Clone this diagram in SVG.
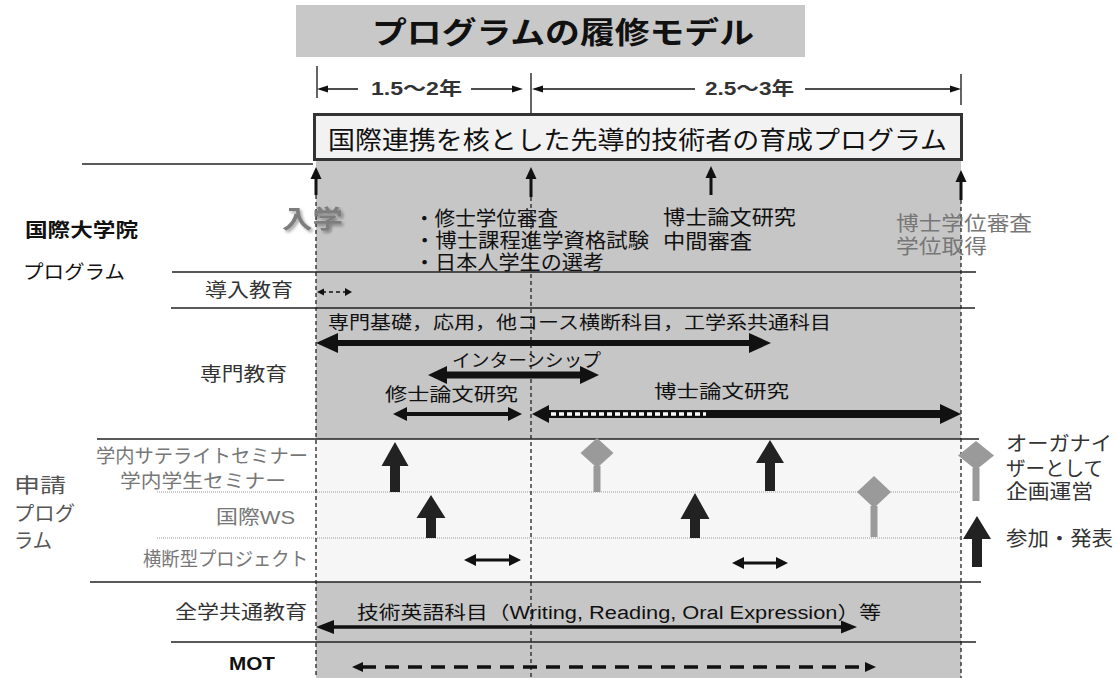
<svg xmlns="http://www.w3.org/2000/svg" width="1118" height="678" viewBox="0 0 1118 678">
<defs>
<style>
text{font-family:'Liberation Sans','Noto Sans CJK JP',sans-serif;}
.k{fill:#111}
.g{fill:#777}
.d{fill:#333}
.ln{stroke:#222;stroke-width:1.3;fill:none}
.thin{stroke:#111;stroke-width:1.3;fill:none}
.vd{stroke:#222;stroke-width:1.3;stroke-dasharray:4 3;fill:none}
.dot{stroke:#999;stroke-width:1;stroke-dasharray:1 1;fill:none}
.blk{fill:#222}
.hd{fill:#111}
.dia{fill:#9a9a9a}
</style>
<filter id="sh" x="-20%" y="-20%" width="150%" height="150%">
<feGaussianBlur in="SourceAlpha" stdDeviation="1.5"/>
<feOffset dx="2" dy="2" result="b"/>
<feFlood flood-color="#000" flood-opacity="0.35"/>
<feComposite in2="b" operator="in"/>
<feMerge><feMergeNode/><feMergeNode in="SourceGraphic"/></feMerge>
</filter>
</defs>
<rect width="1118" height="678" fill="#fff"/>

<g id="background">
<rect x="316" y="160" width="645" height="518" fill="#c6c6c6"/>
<rect x="316" y="439" width="645" height="143" fill="#f6f6f6"/>
</g>

<g id="title">
<rect x="296" y="5" width="509" height="52" fill="#c8c8c8"/>
<text x="372" y="43" font-size="30" font-weight="bold" class="k" textLength="382" lengthAdjust="spacingAndGlyphs">プログラムの履修モデル</text>
</g>

<g id="grid">
<line class="ln" x1="82" y1="164" x2="313" y2="164"/>
<line class="ln" x1="172" y1="272" x2="976" y2="272"/>
<line class="ln" x1="171" y1="308" x2="975" y2="308"/>
<line class="ln" x1="97" y1="439" x2="979" y2="439"/>
<line class="dot" x1="157" y1="492" x2="961" y2="492"/>
<line class="dot" x1="157" y1="538" x2="961" y2="538"/>
<line class="ln" x1="90" y1="582" x2="981" y2="582"/>
<line class="ln" x1="171" y1="642" x2="976" y2="642"/>
<line class="vd" x1="316" y1="195" x2="316" y2="678"/>
<line class="vd" x1="531" y1="197" x2="531" y2="678"/>
<line class="vd" x1="961" y1="200" x2="961" y2="678"/>
</g>

<g id="period">
<line class="thin" x1="317" y1="66" x2="317" y2="98"/>
<line class="thin" x1="531" y1="73" x2="531" y2="113"/>
<line class="thin" x1="961" y1="74" x2="961" y2="105"/>
<text x="371" y="95" font-size="18" font-weight="bold" class="d" textLength="91" lengthAdjust="spacingAndGlyphs">1.5～2年</text>
<text x="705" y="95" font-size="18" font-weight="bold" class="d" textLength="89" lengthAdjust="spacingAndGlyphs">2.5～3年</text>
</g>

<g id="program-box">
<rect x="314.5" y="114.5" width="647" height="45" fill="#f2f2f2" stroke="#333" stroke-width="3"/>
<text x="328" y="148.5" font-size="25" class="k" textLength="619" lengthAdjust="spacingAndGlyphs">国際連携を核とした先導的技術者の育成プログラム</text>
</g>

<g id="milestones">
<text x="282" y="228" font-size="25" font-weight="bold" fill="#7d7d7d" filter="url(#sh)" textLength="61" lengthAdjust="spacingAndGlyphs">入学</text>
<text x="414" y="226" font-size="20" class="k" textLength="144" lengthAdjust="spacingAndGlyphs">・修士学位審査</text>
<text x="414" y="248" font-size="20" class="k" textLength="235" lengthAdjust="spacingAndGlyphs">・博士課程進学資格試験</text>
<text x="414" y="269.5" font-size="20" class="k" textLength="190" lengthAdjust="spacingAndGlyphs">・日本人学生の選考</text>
<text x="663" y="224.5" font-size="20" class="k" textLength="133" lengthAdjust="spacingAndGlyphs">博士論文研究</text>
<text x="663" y="248.5" font-size="20" class="k" textLength="89" lengthAdjust="spacingAndGlyphs">中間審査</text>
<text x="896" y="231" font-size="20" class="g" textLength="136" lengthAdjust="spacingAndGlyphs">博士学位審査</text>
<text x="896" y="254" font-size="20" class="g" textLength="91" lengthAdjust="spacingAndGlyphs">学位取得</text>
</g>

<g id="labels-left">
<text x="25" y="237" font-size="19" font-weight="bold" class="k" textLength="113" lengthAdjust="spacingAndGlyphs">国際大学院</text>
<text x="23" y="279" font-size="19" class="k" textLength="102" lengthAdjust="spacingAndGlyphs">プログラム</text>
<text x="205" y="297" font-size="19" class="d" textLength="88" lengthAdjust="spacingAndGlyphs">導入教育</text>
<text x="200" y="381" font-size="19" class="d" textLength="87" lengthAdjust="spacingAndGlyphs">専門教育</text>
<text x="14" y="493" font-size="20" fill="#555" textLength="52" lengthAdjust="spacingAndGlyphs">申請</text>
<text x="14" y="521" font-size="20" fill="#555" textLength="61" lengthAdjust="spacingAndGlyphs">プログ</text>
<text x="14" y="548" font-size="20" fill="#555" textLength="38" lengthAdjust="spacingAndGlyphs">ラム</text>
<text x="96" y="463" font-size="19" class="g" textLength="212" lengthAdjust="spacingAndGlyphs">学内サテライトセミナー</text>
<text x="120" y="488" font-size="19" class="g" textLength="166" lengthAdjust="spacingAndGlyphs">学内学生セミナー</text>
<text x="216" y="524" font-size="19" class="g" textLength="79" lengthAdjust="spacingAndGlyphs">国際WS</text>
<text x="143" y="566" font-size="19" class="g" textLength="165" lengthAdjust="spacingAndGlyphs">横断型プロジェクト</text>
<text x="175" y="619" font-size="19" class="d" textLength="132" lengthAdjust="spacingAndGlyphs">全学共通教育</text>
<text x="229" y="670" font-size="18" font-weight="bold" class="k" textLength="46" lengthAdjust="spacingAndGlyphs">MOT</text>
</g>

<g id="course-labels">
<text x="328" y="329" font-size="18" class="k" textLength="503" lengthAdjust="spacingAndGlyphs">専門基礎，応用，他コース横断科目，工学系共通科目</text>
<text x="452" y="367" font-size="18" class="k" textLength="149" lengthAdjust="spacingAndGlyphs">インターンシップ</text>
<text x="385" y="401" font-size="18" class="k" textLength="133" lengthAdjust="spacingAndGlyphs">修士論文研究</text>
<text x="654" y="398" font-size="18" class="k" textLength="135" lengthAdjust="spacingAndGlyphs">博士論文研究</text>
<text x="357" y="619" font-size="18" class="k" textLength="524" lengthAdjust="spacingAndGlyphs">技術英語科目（Writing, Reading, Oral Expression）等</text>
</g>

<g id="legend">
<polygon class="dia" points="976,441 994,455.5 976,470 958,455.5"/>
<rect class="dia" x="972.5" y="468" width="7" height="33"/>
<path class="blk" d="M977,516 L991,539 L982,539 L982,567 L972,567 L972,539 L963,539 Z"/>
<text x="1006" y="451" font-size="20" class="d" textLength="106" lengthAdjust="spacingAndGlyphs">オーガナイ</text>
<text x="1006" y="476" font-size="20" class="d" textLength="97" lengthAdjust="spacingAndGlyphs">ザーとして</text>
<text x="1006" y="499" font-size="20" class="d" textLength="87" lengthAdjust="spacingAndGlyphs">企画運営</text>
<text x="1006" y="546" font-size="20" class="d" textLength="107" lengthAdjust="spacingAndGlyphs">参加・発表</text>
</g>

<g id="connectors">
<line class="thin" x1="320" y1="89" x2="358" y2="89"/>
<polygon class="hd" points="317,89 328,85.5 328,92.5"/>
<line class="thin" x1="471" y1="89" x2="520" y2="89"/>
<polygon class="hd" points="523,89 512,85.5 512,92.5"/>
<line class="thin" x1="535" y1="89" x2="695" y2="89"/>
<polygon class="hd" points="532,89 543,85.5 543,92.5"/>
<line class="thin" x1="805" y1="89" x2="958" y2="89"/>
<polygon class="hd" points="961,89 950,85.5 950,92.5"/>
<line x1="316" y1="195" x2="316" y2="176" stroke="#111" stroke-width="3"/>
<polygon class="hd" points="316,167 310.5,179 321.5,179"/>
<line x1="531" y1="197" x2="531" y2="176" stroke="#111" stroke-width="3"/>
<polygon class="hd" points="531,167 525.5,179 536.5,179"/>
<line x1="711" y1="195" x2="711" y2="175" stroke="#111" stroke-width="3"/>
<polygon class="hd" points="711,166 705.5,178 716.5,178"/>
<line x1="961" y1="200" x2="961" y2="179" stroke="#111" stroke-width="3"/>
<polygon class="hd" points="961,170 955.5,182 966.5,182"/>
<line x1="322" y1="292" x2="347" y2="292" stroke="#111" stroke-width="1.5" stroke-dasharray="4 3"/>
<polygon class="hd" points="317,292 324,288.5 324,295.5"/>
<polygon class="hd" points="352,292 345,288 345,296"/>
<line x1="336" y1="343" x2="751" y2="343" stroke="#111" stroke-width="6"/>
<polygon class="hd" points="316,343 338,333 338,353"/>
<polygon class="hd" points="771,343 749,333 749,353"/>
<line x1="445" y1="375" x2="582" y2="375" stroke="#111" stroke-width="7"/>
<polygon class="hd" points="428,375 447,366 447,384"/>
<polygon class="hd" points="599,375 580,366 580,384"/>
<line x1="405" y1="414" x2="510" y2="414" stroke="#111" stroke-width="4"/>
<polygon class="hd" points="393,414 407,407 407,421"/>
<polygon class="hd" points="522,414 508,407 508,421"/>
<line x1="546" y1="414" x2="942" y2="414" stroke="#111" stroke-width="8"/>
<line x1="551" y1="414" x2="706" y2="414" stroke="#fff" stroke-width="3.5" stroke-dasharray="5 3"/>
<polygon class="hd" points="532,414 549,405 549,423"/>
<polygon class="hd" points="961,414 940,404 940,424"/>
<path class="blk" d="M395,442 L408.5,466 L400,466 L400,492 L390,492 L390,466 L381.5,466 Z"/>
<path class="blk" d="M431,495 L445.5,518 L436,518 L436,538 L426,538 L426,518 L416.5,518 Z"/>
<path class="blk" d="M770,440 L784,463 L775,463 L775,491 L765,491 L765,463 L756,463 Z"/>
<path class="blk" d="M695,493 L709.5,519 L700,519 L700,538 L690,538 L690,519 L680.5,519 Z"/>
<polygon class="dia" points="597,438 613.5,453 597,468 580.5,453"/>
<rect class="dia" x="593.5" y="466" width="7" height="26"/>
<polygon class="dia" points="874,476 891,492 874,508 857,492"/>
<rect class="dia" x="870.5" y="506" width="7" height="31"/>
<line x1="474" y1="560" x2="511" y2="560" stroke="#111" stroke-width="3"/>
<polygon class="hd" points="464,560 476,554 476,566"/>
<polygon class="hd" points="521,560 509,554 509,566"/>
<line x1="742" y1="563" x2="778" y2="563" stroke="#111" stroke-width="3"/>
<polygon class="hd" points="732,563 744,557 744,569"/>
<polygon class="hd" points="788,563 776,557 776,569"/>
<line x1="330" y1="627" x2="843" y2="627" stroke="#111" stroke-width="3.5"/>
<polygon class="hd" points="316,627 334,620 334,634"/>
<polygon class="hd" points="857,627 841,620.5 841,633.5"/>
<line x1="362" y1="667" x2="866" y2="667" stroke="#111" stroke-width="3.5" stroke-dasharray="14 9"/>
<polygon class="hd" points="352,667 363,662 363,672"/>
<polygon class="hd" points="876,667 865,662 865,672"/>
</g>
</svg>
